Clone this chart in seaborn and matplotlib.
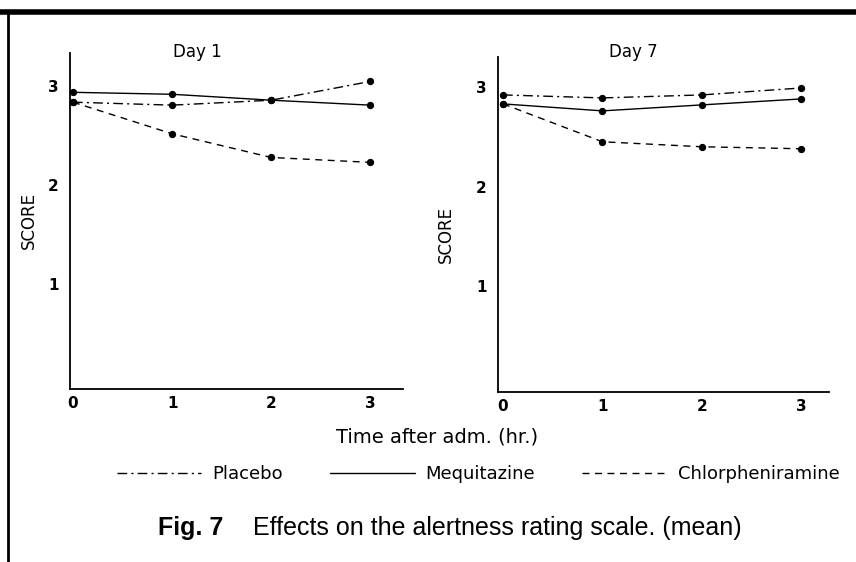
import matplotlib
matplotlib.use("Agg")
import matplotlib.pyplot as plt
from matplotlib.lines import Line2D
import seaborn as sns
import pandas as pd

# time points (hr after administration)
hours = [0, 1, 2, 3]
drugs = ["Placebo", "Mequitazine", "Chlorpheniramine"]

# mean alertness scores
day1_placebo = [2.84, 2.81, 2.86, 3.05]
day1_mequitazine = [2.94, 2.92, 2.86, 2.81]
day1_chlorpheniramine = [2.84, 2.52, 2.28, 2.23]

day7_placebo = [2.92, 2.89, 2.92, 2.99]
day7_mequitazine = [2.83, 2.76, 2.82, 2.88]
day7_chlorpheniramine = [2.83, 2.45, 2.40, 2.38]

y_ticks = [1, 2, 3]
x_ticks = [0, 1, 2, 3]


def long_frame(day, series):
    rows = []
    for drug, vals in zip(drugs, series):
        for h, v in zip(hours, vals):
            rows.append({"day": day, "drug": drug, "hour": h, "score": v})
    return pd.DataFrame(rows)


df = pd.concat([
    long_frame("Day 1", [day1_placebo, day1_mequitazine, day1_chlorpheniramine]),
    long_frame("Day 7", [day7_placebo, day7_mequitazine, day7_chlorpheniramine]),
], ignore_index=True)

sns.set_theme(style="white")
plt.rcParams["font.family"] = ["DejaVu Sans"]
for key in ["text.color", "axes.labelcolor", "xtick.color", "ytick.color"]:
    plt.rcParams[key] = "black"
caption_font = ["Liberation Sans", "DejaVu Sans"]

dash_styles = {"Placebo": (7, 3, 1.5, 3), "Mequitazine": "", "Chlorpheniramine": (5, 4)}
marker_styles = {d: "o" for d in drugs}

fig = plt.figure(figsize=(8.56, 5.62), dpi=100)
ax1 = fig.add_axes([0.0818, 0.308, 0.389, 0.598])
ax2 = fig.add_axes([0.5818, 0.3025, 0.387, 0.596])

panels = [(ax1, "Day 1", (-0.065, 3.34), (-0.03, 3.33), (-0.096, 0.50), 197),
          (ax2, "Day 7", (-0.06, 3.30), (-0.05, 3.28), (-0.13, 0.47), 633)]

for ax, day, ylim, xlim, lab_xy, title_x in panels:
    sub = df[df["day"] == day]
    sns.lineplot(data=sub, x="hour", y="score", style="drug", style_order=drugs,
                 dashes=dash_styles, markers=marker_styles, color="black",
                 linewidth=1.0, markersize=4.5, markeredgecolor="black",
                 legend=False, ax=ax)
    ax.set_xlim(*xlim)
    ax.set_ylim(*ylim)
    ax.set_xticks(x_ticks)
    ax.set_yticks(y_ticks)
    ax.tick_params(axis="both", labelsize=11, length=3, width=1, color="black",
                   pad=5)
    for lbl in ax.get_xticklabels() + ax.get_yticklabels():
        lbl.set_fontweight("bold")
    ax.tick_params(axis="x", direction="in")
    ax.tick_params(axis="y", direction="out")
    ax.set_xlabel("")
    ax.set_ylabel("SCORE", fontsize=12)
    ax.yaxis.set_label_coords(*lab_xy)
    for side in ["top", "right"]:
        ax.spines[side].set_visible(False)
    for side in ["left", "bottom"]:
        ax.spines[side].set_color("black")
        ax.spines[side].set_linewidth(1.3)
    fig.text(title_x / 856, 1 - 52 / 562, day, ha="center", va="center",
             fontsize=12)

fig.text(437 / 856, 1 - 437 / 562, "Time after adm. (hr.)", ha="center",
         va="center", fontsize=14)

handles = [Line2D([], [], color="black", lw=1.0, dashes=dash_styles[d])
           if dash_styles[d] else Line2D([], [], color="black", lw=1.0)
           for d in drugs]
fig.legend(handles, drugs, loc="center", bbox_to_anchor=(478 / 856, 1 - 474 / 562),
           ncol=3, frameon=False, handlelength=4.7, handletextpad=0.6,
           columnspacing=2.6, fontsize=13)

fig.text(158 / 856, 1 - 528 / 562, "Fig. 7", ha="left", va="center",
         fontsize=18, fontweight="bold", family=caption_font)
fig.text(253 / 856, 1 - 528 / 562, "Effects on the alertness rating scale. (mean)",
         ha="left", va="center", fontsize=18, family=caption_font)

# page border from the scanned document
fig.add_artist(Line2D([0.0, 1.0], [1 - 12 / 562, 1 - 12 / 562], color="black",
                      lw=4, transform=fig.transFigure))
fig.add_artist(Line2D([8 / 856, 8 / 856], [0.0, 1 - 12 / 562], color="black",
                      lw=2, transform=fig.transFigure))

fig.savefig("out.png", dpi=100)
